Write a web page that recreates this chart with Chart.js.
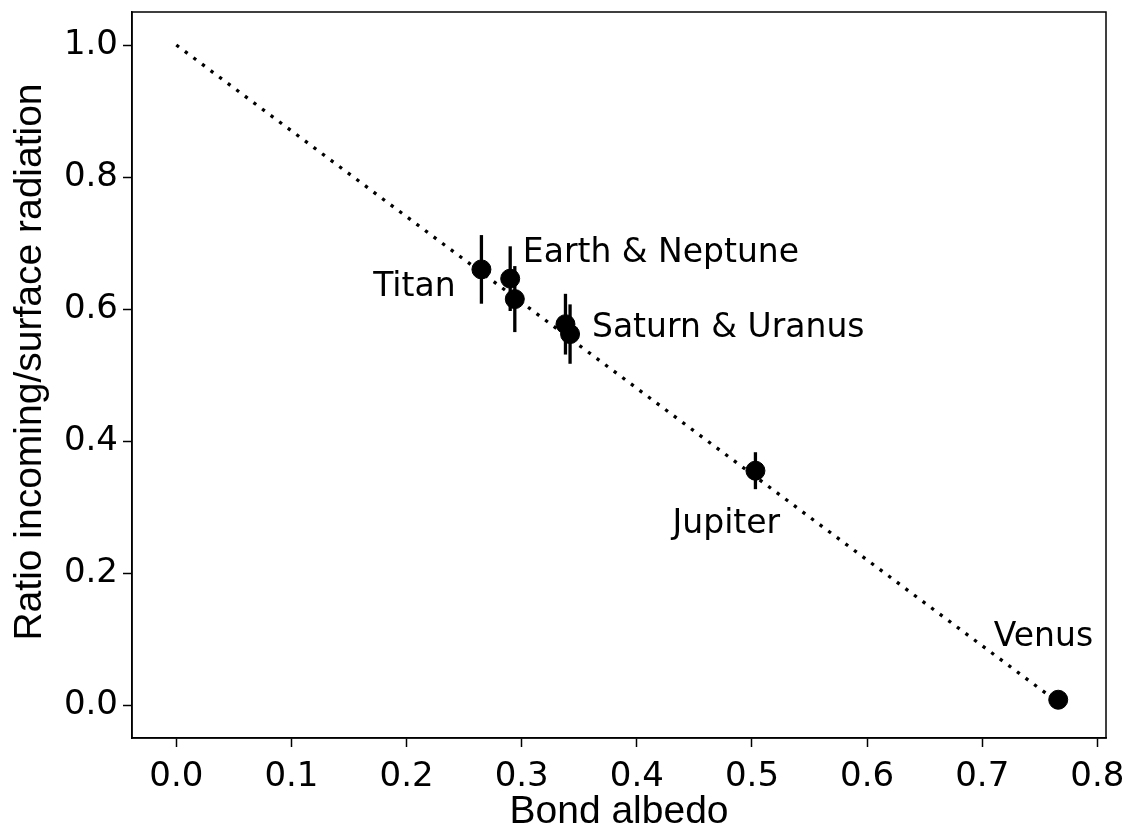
<!DOCTYPE html>
<html>
<head>
<meta charset="utf-8">
<script src="https://cdn.jsdelivr.net/npm/chart.js@4.4.1/dist/chart.umd.min.js"></script>
<style>
  html, body { margin: 0; padding: 0; background: #fff; }
  #wrap { width: 1125px; height: 832px; }
</style>
</head>
<body>
<div id="wrap"><canvas id="albedoChart" width="1125" height="832"></canvas></div>
<script>
// measured values
const bodies = ['Titan', 'Earth', 'Neptune', 'Saturn', 'Uranus', 'Jupiter', 'Venus'];
const albedo = [0.265, 0.290, 0.294, 0.338, 0.342, 0.503, 0.766];
const ratio = [0.660, 0.646, 0.615, 0.577, 0.562, 0.355, 0.008];
const ratioErr = [0.052, 0.049, 0.050, 0.046, 0.045, 0.028, 0.0];

// dotted reference line
const fitX = [0, 0.769];
const fitY = [1, 0];

// text labels, anchored in data units (left / baseline)
const labelText = ['Titan', 'Earth & Neptune', 'Saturn & Uranus', 'Jupiter', 'Venus'];
const labelX = [0.171, 0.301, 0.361, 0.431, 0.710];
const labelY = [0.620, 0.671, 0.557, 0.260, 0.090];

const xTicks = [0.0, 0.1, 0.2, 0.3, 0.4, 0.5, 0.6, 0.7, 0.8];
const yTicks = [0.0, 0.2, 0.4, 0.6, 0.8, 1.0];

const yTitle = 'Ratio incoming/surface radiation';
const tickFont = { family: 'DejaVu Sans', size: 34 };
const titleFont = { family: 'Liberation Sans', size: 39, lineHeight: 1 };

const errorBars = {
  id: 'errorBars',
  afterDatasetsDraw(chart) {
    const { ctx, scales: { x, y } } = chart;
    ctx.save();
    ctx.strokeStyle = '#000';
    ctx.lineWidth = 3.3;
    albedo.forEach((a, i) => {
      if (!ratioErr[i]) return;
      const px = x.getPixelForValue(a);
      ctx.beginPath();
      ctx.moveTo(px, y.getPixelForValue(ratio[i] + ratioErr[i]));
      ctx.lineTo(px, y.getPixelForValue(ratio[i] - ratioErr[i]));
      ctx.stroke();
    });
    ctx.restore();
  }
};

const frameAndLabels = {
  id: 'frameAndLabels',
  afterDraw(chart) {
    const { ctx, chartArea: ca, scales: { x, y } } = chart;
    ctx.save();
    ctx.strokeStyle = '#000';
    ctx.lineWidth = 1.5;
    ctx.strokeRect(ca.left, ca.top, ca.right - ca.left, ca.bottom - ca.top);
    ctx.fillStyle = '#000';
    ctx.font = '33px "DejaVu Sans"';
    ctx.textAlign = 'left';
    ctx.textBaseline = 'alphabetic';
    labelText.forEach((t, i) => {
      ctx.fillText(t, x.getPixelForValue(labelX[i]), y.getPixelForValue(labelY[i]));
    });
    // y axis title, a little above the axes centre like the original
    ctx.translate(30.5, (ca.top + ca.bottom) / 2 - 13);
    ctx.rotate(-Math.PI / 2);
    ctx.font = '39px "Liberation Sans"';
    ctx.textAlign = 'center';
    ctx.textBaseline = 'middle';
    ctx.fillText(yTitle, 0, 0);
    ctx.restore();
  }
};

new Chart(document.getElementById('albedoChart'), {
  type: 'scatter',
  data: {
    datasets: [
      {
        label: 'Bodies',
        data: albedo.map((a, i) => ({ x: a, y: ratio[i] })),
        backgroundColor: '#000',
        borderColor: '#000',
        pointRadius: 9.5,
        pointHoverRadius: 9.5,
        order: 0
      },
      {
        label: 'Fit',
        data: fitX.map((v, i) => ({ x: v, y: fitY[i] })),
        showLine: true,
        borderColor: '#000',
        borderWidth: 3.3,
        borderDash: [3.3, 7.4],
        pointRadius: 0,
        fill: false,
        order: 1
      }
    ]
  },
  options: {
    responsive: false,
    animation: false,
    devicePixelRatio: 1,
    layout: { padding: { top: 12, right: 19, left: 0, bottom: 0 } },
    plugins: { legend: { display: false }, tooltip: { enabled: false } },
    scales: {
      x: {
        type: 'linear',
        min: -0.0385,
        max: 0.8075,
        afterBuildTicks: s => { s.ticks = xTicks.map(v => ({ value: v })); },
        afterFit: s => { s.height = 94; s.paddingLeft = 0; s.paddingRight = 0; },
        ticks: {
          font: tickFont, color: '#000', padding: 10,
          maxRotation: 0, autoSkip: false,
          callback: v => v.toFixed(1)
        },
        grid: { drawOnChartArea: false, tickLength: 9, tickWidth: 1.5, tickColor: '#000' },
        border: { color: '#000', width: 1.5 },
        title: { display: true, text: 'Bond albedo', font: titleFont, color: '#000', padding: 0 }
      },
      y: {
        type: 'linear',
        min: -0.05,
        max: 1.05,
        afterBuildTicks: s => { s.ticks = yTicks.map(v => ({ value: v })); },
        afterFit: s => { s.width = 132; s.paddingTop = 0; s.paddingBottom = 0; },
        ticks: {
          font: tickFont, color: '#000', padding: 5,
          autoSkip: false,
          callback: v => v.toFixed(1)
        },
        grid: { drawOnChartArea: false, tickLength: 9, tickWidth: 1.5, tickColor: '#000' },
        border: { color: '#000', width: 1.5 }
      }
    }
  },
  plugins: [errorBars, frameAndLabels]
});
</script>
</body>
</html>
